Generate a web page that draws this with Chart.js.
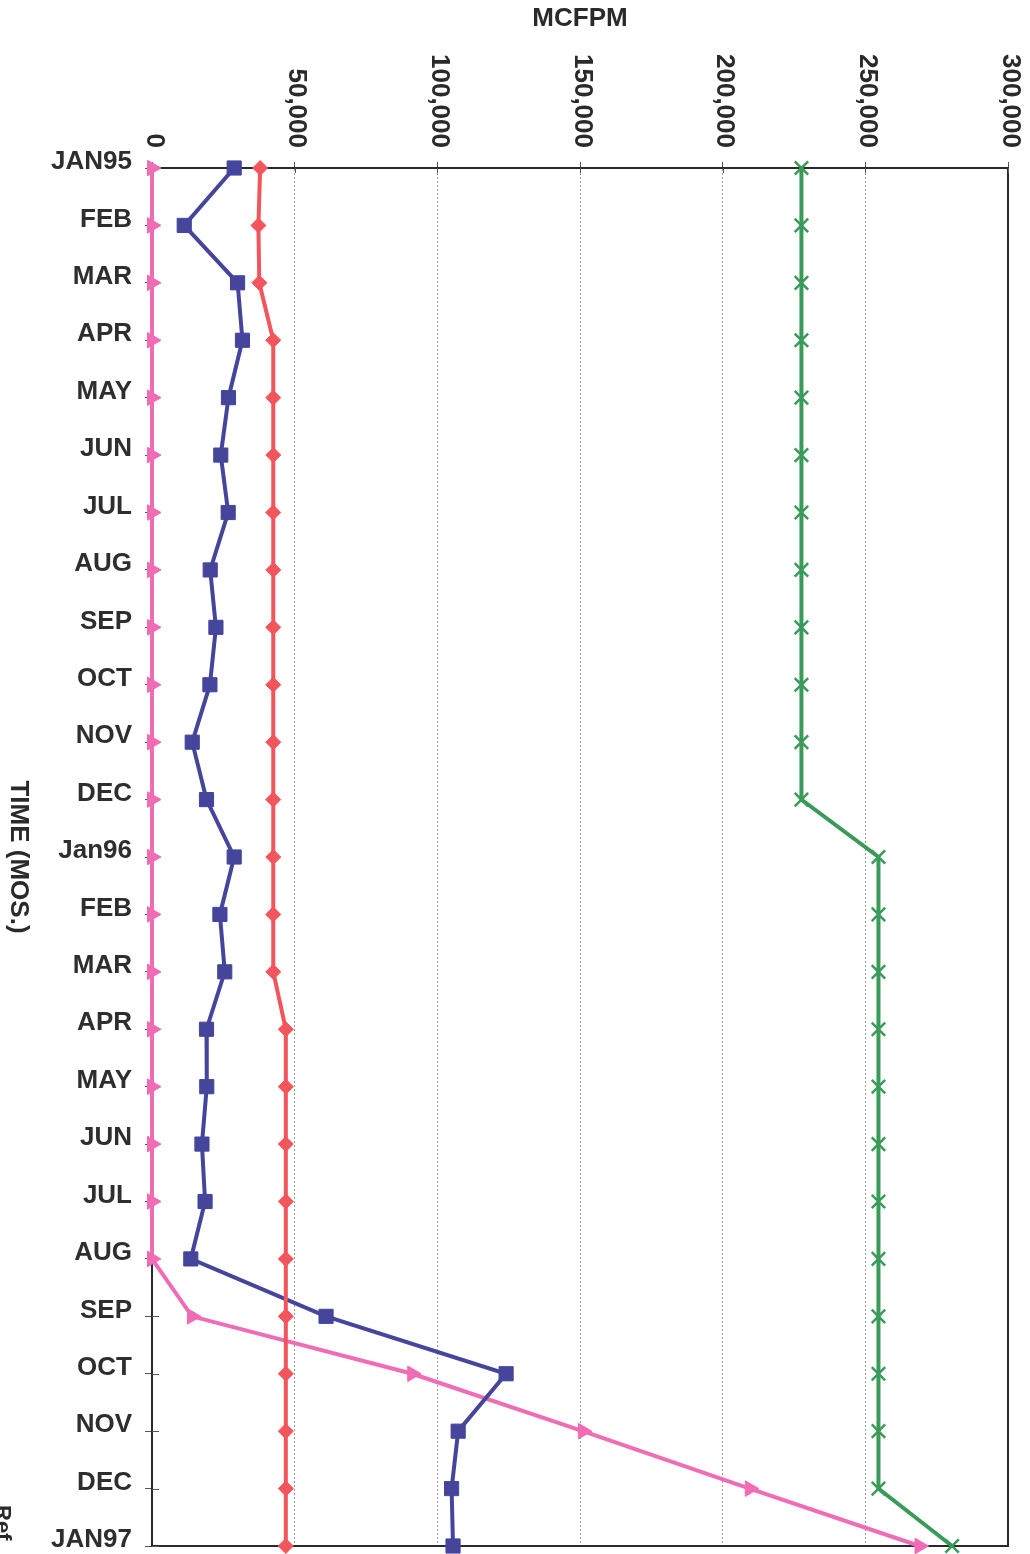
<!DOCTYPE html>
<html>
<head>
<meta charset="utf-8">
<script src="https://cdn.jsdelivr.net/npm/chart.js@4.4.1/dist/chart.umd.min.js"></script>
<style>
  html, body { margin: 0; padding: 0; background: #ffffff; }
  #wrap { width: 1030px; height: 1554px; position: relative; }
</style>
</head>
<body>
<div id="wrap"><canvas id="c" width="1030" height="1554"></canvas></div>
<script>
const categories = ['JAN95','FEB','MAR','APR','MAY','JUN','JUL','AUG','SEP','OCT','NOV','DEC',
  'Jan96','FEB','MAR','APR','MAY','JUN','JUL','AUG','SEP','OCT','NOV','DEC','JAN97'];

const blueSeries = [28800, 11300, 30000, 31700, 26800, 24100, 26700, 20400, 22400, 20300, 14100, 19100,
  28800, 23800, 25500, 19100, 19200, 17500, 18600, 13600, 61000, 124100, 107300, 105000, 105500];

const redSeries = [37900, 37300, 37600, 42500, 42500, 42500, 42500, 42500, 42500, 42500, 42500, 42500,
  42500, 42500, 42500, 46900, 46900, 46900, 46900, 46900, 46900, 46900, 46900, 46900, 46900];

const greenSeries = [227600, 227600, 227600, 227600, 227600, 227600, 227600, 227600, 227600, 227600, 227600, 227600,
  254600, 254600, 254600, 254600, 254600, 254600, 254600, 254600, 254600, 254600, 254600, 254600, 280400];

const pinkSeries = [0, 0, 0, 0, 0, 0, 0, 0, 0, 0, 0, 0,
  0, 0, 0, 0, 0, 0, 0, 0, 14000, 91200, 151000, 209500, 269000];

const xTickValues = [0, 50000, 100000, 150000, 200000, 250000, 300000];
const xTickLabels = ['0', '50,000', '100,000', '150,000', '200,000', '250,000', '300,000'];
const xTitle = 'MCFPM';
const yTitle = 'TIME (MOS.)';

const FONT = '"Liberation Sans", Arial, Helvetica, sans-serif';

const decorPlugin = {
  id: 'decor',
  beforeDatasetsDraw(chart) {
    const ctx = chart.ctx, a = chart.chartArea;
    const xs = chart.scales.x, ys = chart.scales.y;
    ctx.save();
    ctx.strokeStyle = '#2a2a2a';
    ctx.lineWidth = 2;
    ctx.strokeRect(a.left, a.top, a.right - a.left, a.bottom - a.top);
    ctx.strokeStyle = '#555';
    ctx.lineWidth = 1;
    ctx.beginPath();
    categories.forEach((c, i) => {
      const py = Math.round(ys.getPixelForTick(i)) + 0.5;
      ctx.moveTo(a.left, py); ctx.lineTo(a.left + 7, py);
    });
    xTickValues.forEach(v => {
      const px = Math.round(xs.getPixelForValue(v)) + 0.5;
      ctx.moveTo(px, a.top); ctx.lineTo(px, a.top + 5);
    });
    ctx.stroke();
    ctx.restore();
  },
  afterDraw(chart) {
    const ctx = chart.ctx, xs = chart.scales.x;
    ctx.save();
    ctx.fillStyle = '#2a2a2a';
    ctx.font = 'bold 26px ' + FONT;
    xTickValues.forEach((v, i) => {
      const px = xs.getPixelForValue(v);
      ctx.save();
      ctx.translate(px + 2, 148);
      ctx.rotate(Math.PI / 2);
      ctx.textAlign = 'right';
      ctx.textBaseline = 'middle';
      ctx.fillText(xTickLabels[i], 0, 0);
      ctx.restore();
    });
    ctx.textAlign = 'center';
    ctx.textBaseline = 'middle';
    ctx.font = 'bold 26px ' + FONT;
    ctx.fillText(xTitle, 580, 19);
    ctx.save();
    ctx.translate(18, 857);
    ctx.rotate(Math.PI / 2);
    ctx.font = 'bold 26px ' + FONT;
    ctx.fillText(yTitle, 0, 0);
    ctx.restore();
    ctx.save();
    ctx.translate(2, 1505);
    ctx.rotate(Math.PI / 2);
    ctx.textAlign = 'left';
    ctx.font = 'bold 22px ' + FONT;
    ctx.fillText('Ref', 0, 0);
    ctx.restore();
    ctx.restore();
  }
};

function ds(data, color, style, radius, rotation, bw) {
  return {
    data: data,
    borderColor: color,
    backgroundColor: color,
    borderWidth: 4,
    pointStyle: style,
    pointRadius: radius,
    pointHoverRadius: radius,
    pointRotation: rotation || 0,
    pointBorderWidth: bw,
    pointBorderColor: color,
    pointBackgroundColor: color,
    tension: 0,
    fill: false,
    clip: false
  };
}

new Chart(document.getElementById('c'), {
  type: 'line',
  data: {
    labels: categories,
    datasets: [
      ds(redSeries, '#f2555c', 'rectRot', 7.5, 0, 1),
      ds(greenSeries, '#3a9a58', 'crossRot', 9.5, 0, 2.5),
      ds(blueSeries, '#45459c', 'rect', 10, 0, 1),
      ds(pinkSeries, '#f06cb4', 'triangle', 9, 90, 1)
    ]
  },
  plugins: [decorPlugin],
  options: {
    indexAxis: 'y',
    responsive: false,
    animation: false,
    devicePixelRatio: 1,
    layout: { autoPadding: false, padding: { left: 0, top: 0, right: 22, bottom: 8 } },
    plugins: {
      legend: { display: false },
      tooltip: { enabled: false },
      title: { display: false }
    },
    scales: {
      x: {
        type: 'linear',
        position: 'top',
        min: 0,
        max: 300000,
        ticks: { stepSize: 50000, display: false },
        grid: {
          color: '#9a9a9a',
          lineWidth: 1,
          drawTicks: true,
          tickLength: 6,
          tickColor: '#555'
        },
        border: { display: true, color: '#2a2a2a', width: 2, dash: [2, 2] },
        afterFit(scale) { scale.height = 168; scale.paddingLeft = 0; scale.paddingRight = 0; }
      },
      y: {
        type: 'category',
        offset: false,
        ticks: {
          color: '#2e2e2e',
          font: { family: FONT, size: 26, weight: 'bold' },
          padding: 13,
          labelOffset: -6,
          autoSkip: false
        },
        grid: {
          drawOnChartArea: false,
          drawTicks: true,
          tickLength: 7,
          tickColor: '#555'
        },
        border: { display: true, color: '#2a2a2a', width: 2 },
        afterFit(scale) { scale.width = 152; scale.paddingTop = 0; scale.paddingBottom = 0; }
      }
    }
  }
});
</script>
</body>
</html>
